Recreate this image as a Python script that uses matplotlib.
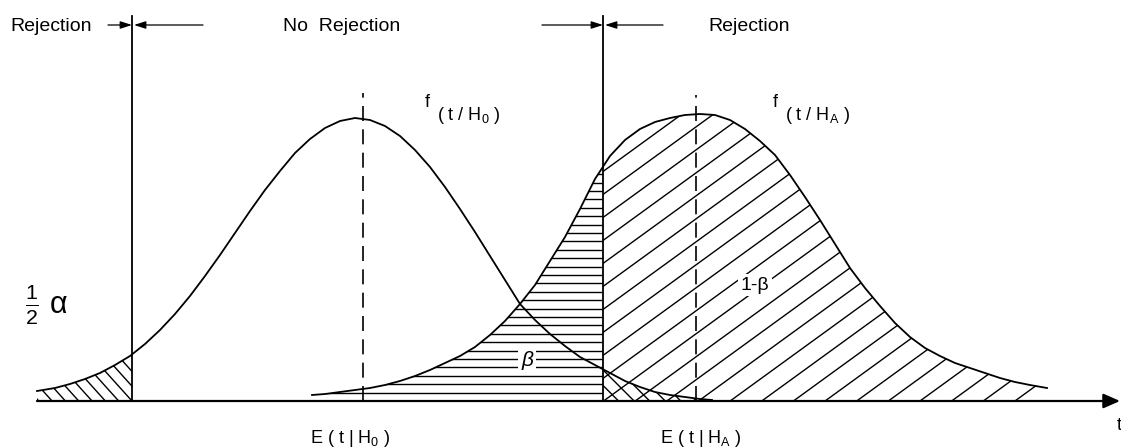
import numpy as np
import matplotlib
matplotlib.use('Agg')
import matplotlib.pyplot as plt
from matplotlib.patches import Polygon
from matplotlib.collections import LineCollection

plt.rcParams['font.family'] = ['Liberation Sans', 'DejaVu Sans']
plt.rcParams['mathtext.fontset'] = 'custom'
plt.rcParams['mathtext.rm'] = 'Liberation Sans'
plt.rcParams['mathtext.it'] = 'Liberation Sans:italic'
plt.rcParams['mathtext.default'] = 'regular'

# ---- data (t position, density height above the t axis) ----
h0_x = [37, 55, 70, 85, 100, 115, 130, 145, 160, 175, 190, 205, 220, 235, 250, 265,
        280, 295, 310, 325, 340, 355, 370, 385, 400, 415, 430, 445, 460, 475, 490,
        505, 520, 535, 550, 565, 580, 595, 610, 625, 640, 655, 670, 685, 700, 712]
h0_y = [10, 13, 17, 22, 28, 36, 45, 57, 71, 87, 105, 125, 146, 168, 190, 211,
        230, 248, 262, 273, 280, 283, 281, 275, 265, 251, 234, 214, 192, 169, 145,
        121, 97, 81, 67, 55, 44, 36, 28, 20, 14, 9, 6, 4, 2, 1]

h1_x = [312, 325, 340, 355, 370, 385, 400, 415, 430, 445, 460, 475, 490, 505, 520,
        535, 550, 565, 580, 595, 610, 625, 640, 655, 670, 685, 700, 715, 730, 745,
        760, 775, 790, 805, 820, 835, 850, 865, 880, 895, 910, 925, 940, 955, 970,
        985, 1000, 1015, 1030, 1047]
h1_y = [6, 7, 9, 11, 13, 16, 20, 25, 31, 38, 45, 54, 66, 80, 97,
        116, 140, 164, 192, 222, 245, 261, 272, 279, 283, 286, 287, 286, 281, 272,
        260, 246, 226, 204, 181, 157, 133, 113, 95, 78, 64, 53, 45, 38, 33,
        28, 23, 19, 16, 13]

crit_left = 132
crit_right = 603
mean_h0 = 363
mean_h1 = 696

fig = plt.figure(figsize=(11.21, 4.48), dpi=100)
ax = fig.add_axes([0, 0, 1, 1])
ax.set_xlim(0, 1121)
ax.set_ylim(-47, 401)
ax.axis('off')


def region(xs, ys, lo, hi):
    xs = np.asarray(xs, float)
    ys = np.asarray(ys, float)
    inside = (xs > lo) & (xs < hi)
    px = np.concatenate([[lo], xs[inside], [hi]])
    py = np.concatenate([[np.interp(lo, xs, ys)], ys[inside], [np.interp(hi, xs, ys)]])
    verts = list(zip(px, py)) + [(hi, 0), (lo, 0)]
    return Polygon(verts, closed=True, facecolor='none', edgecolor='none')


def hatch(poly, angle, spacing, anchor=(0.0, 0.0), lw=1.0):
    ax.add_patch(poly)
    v = poly.get_xy()
    a = np.deg2rad(angle)
    d = np.array([np.cos(a), np.sin(a)])
    n = np.array([-np.sin(a), np.cos(a)])
    anc = np.array(anchor, float)
    proj = (v - anc) @ n
    k0 = int(np.floor(proj.min() / spacing))
    k1 = int(np.ceil(proj.max() / spacing))
    L = 3000
    segs = []
    for k in range(k0, k1 + 1):
        c = anc + n * k * spacing
        segs.append([c - d * L, c + d * L])
    lc = LineCollection(segs, colors='black', linewidths=lw)
    ax.add_collection(lc, autolim=False)
    lc.set_clip_path(poly)


# hatched areas
hatch(region(h0_x, h0_y, h0_x[0], crit_left), -48, 9.9, anchor=(crit_left, 0))
hatch(region(h1_x, h1_y, h1_x[0], crit_right), 0, 8.4, anchor=(0, 0))
hatch(region(h1_x, h1_y, crit_right, h1_x[-1]), 36, 18.6, anchor=(920, 0))
hatch(region(h0_x, h0_y, crit_right, h0_x[-1]), -45, 11.0, anchor=(crit_right, 0))

# density curves
ax.plot(h0_x, h0_y, color='black', lw=1.3, solid_joinstyle='round')
ax.plot(h1_x, h1_y, color='black', lw=1.3, solid_joinstyle='round')

# critical values
ax.plot([crit_left, crit_left], [0, 385], color='black', lw=1.3)
ax.plot([crit_right, crit_right], [0, 385], color='black', lw=1.3)

# expected values
ax.plot([mean_h0, mean_h0], [0, 308], color='black', lw=1.2, linestyle=(0, (9, 5)))
ax.plot([mean_h1, mean_h1], [0, 306], color='black', lw=1.2, linestyle=(0, (9, 5)))

# t axis
ax.annotate('', xy=(1120, 0), xytext=(37, 0),
            arrowprops=dict(arrowstyle='-|>,head_length=0.5,head_width=0.22',
                            lw=1.6, color='black', mutation_scale=20,
                            shrinkA=0, shrinkB=0))

# region arrows at the top
ay = 376
akw = dict(arrowstyle='-|>,head_length=0.5,head_width=0.16', lw=0.9, color='black',
           mutation_scale=14, shrinkA=0, shrinkB=0)
ax.annotate('', xy=(crit_left, ay), xytext=(108, ay), arrowprops=akw)
ax.annotate('', xy=(crit_left + 2, ay), xytext=(203, ay), arrowprops=akw)
ax.annotate('', xy=(crit_right, ay), xytext=(542, ay), arrowprops=akw)
ax.annotate('', xy=(crit_right + 2, ay), xytext=(663, ay), arrowprops=akw)

fs = 14
ax.text(10, 370, 'Rejection', fontsize=fs, ha='left', va='baseline')
ax.text(283, 370, 'No  Rejection', fontsize=fs, ha='left', va='baseline')
ax.text(708, 370, 'Rejection', fontsize=fs, ha='left', va='baseline')

# density labels
ax.text(425, 294, 'f', fontsize=13, ha='left', va='baseline')
ax.text(437, 281, '( t / H$_0$ )', fontsize=13, ha='left', va='baseline')
ax.text(773, 294, 'f', fontsize=13, ha='left', va='baseline')
ax.text(785, 281, '( t / H$_A$ )', fontsize=13, ha='left', va='baseline')

# area labels
ax.text(25, 96, r'$\frac{1}{2}\ \alpha$', fontsize=22, ha='left', va='center')
ax.text(527, 41, 'β', fontsize=15, style='italic', ha='center', va='center',
        bbox=dict(facecolor='white', edgecolor='none', pad=2))
ax.text(755, 116, '1-β', fontsize=14, ha='center', va='center',
        bbox=dict(facecolor='white', edgecolor='none', pad=2))

# expected value labels
ax.text(310, -42, 'E ( t | H$_0$ )', fontsize=13, ha='left', va='baseline')
ax.text(660, -42, 'E ( t | H$_A$ )', fontsize=13, ha='left', va='baseline')
ax.text(1117, -29, 't', fontsize=13, ha='left', va='baseline')

fig.savefig('out.png', dpi=100, facecolor='white')
